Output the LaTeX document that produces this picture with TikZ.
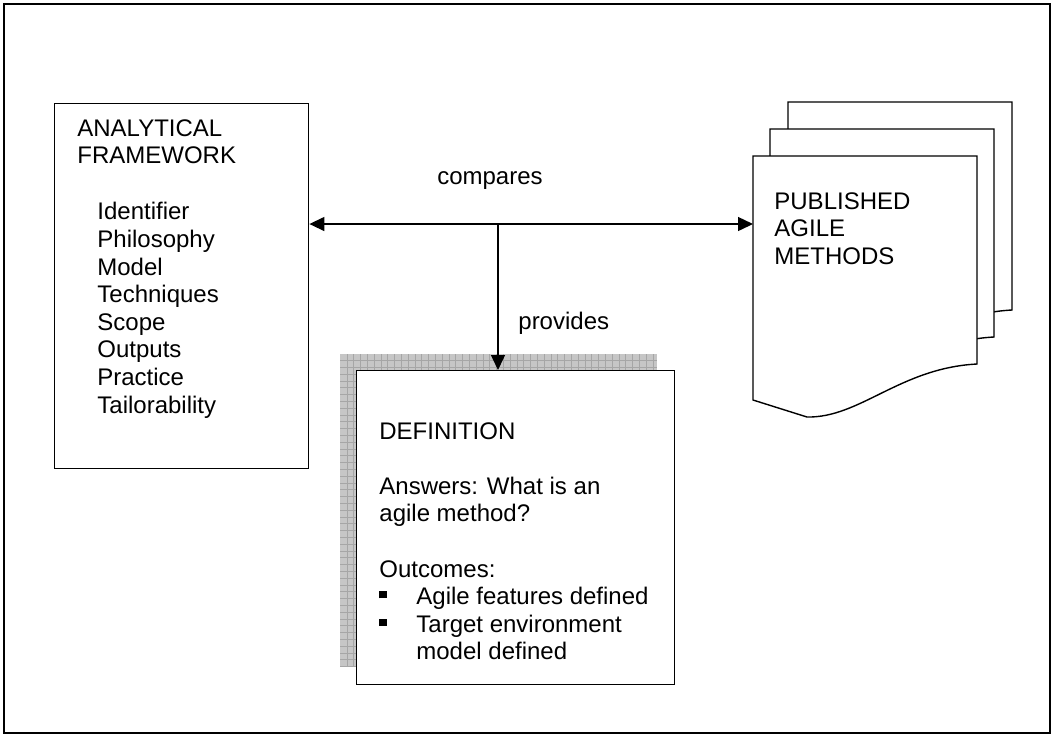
\documentclass[tikz,border=0pt]{standalone}
\usepackage{fontspec}
\setmainfont{Liberation Sans}
\usetikzlibrary{arrows.meta,positioning}

\newcommand{\sqbul}{\makebox[18.5pt][l]{\rule[3.2pt]{3.6pt}{3.6pt}}}

\begin{document}
\begin{tikzpicture}[
    x=0.5pt, y=-0.5pt,
    box/.style={draw, line width=0.7pt, fill=white, rectangle, inner sep=0pt, anchor=north west},
    txt/.style={inner sep=0pt, align=left, anchor=north west, font=\fontsize{12}{13.8}\selectfont},
    lbl/.style={inner sep=0pt, font=\fontsize{12}{13.8}\selectfont},
    arrow/.style={->, line width=0.7pt, >={Triangle[length=7.5pt,width=7pt]}}
]
\useasboundingbox (0,0) rectangle (1054,736);

% Outer frame
\draw[line width=1pt] (4,4) rectangle (1050,733);

% Analytical framework
\node[box, minimum width=127pt, minimum height=182.5pt] (fwork) at (54,103) {};
\node[txt] (fwtitle) at (77,119) {ANALYTICAL\\FRAMEWORK};
\node[txt] (fwlist) at (97,202) {Identifier\\Philosophy\\Model\\Techniques\\Scope\\Outputs\\Practice\\Tailorability};

% Definition with shadow
\fill[gray!45] (340,354) rectangle (657,667);
\begin{scope}
    \clip (340,354) rectangle (657,667);
    \draw[gray!70, line width=0.3pt, step=3.4pt] (340,354) grid (657,667);
\end{scope}
\node[box, minimum width=159pt, minimum height=157pt] (defn) at (356,370) {};
\node[txt] (deftext) at (379,422) {DEFINITION\\[13.8pt]
    Answers: What is an\\agile method?\\[13.8pt]
    Outcomes:\\
    \sqbul Agile features defined\\
    \sqbul Target environment\\
    \hspace{18.5pt}model defined};

% Published methods (stack of documents)
\foreach \dx/\dy in {35/-54, 17/-27, 0/0}
    \draw[line width=0.7pt, fill=white, shift={(\dx,\dy)}]
        (753,156) -- (977,156) -- (977,364)
        .. controls (900,368) and (860,418) .. (807,417) -- (753,400) -- cycle;
\node[inner sep=0pt, minimum width=112pt, minimum height=122pt, anchor=north west] (pubdoc) at (753,156) {};
\node[txt] (pubtext) at (774,192) {PUBLISHED\\AGILE\\METHODS};

% Arrows
\coordinate (split) at (498,224);
\draw[arrow, <->] (fwork.east |- split) -- (pubdoc.west |- split);
\draw[arrow] (split) -- (split |- defn.north);

% Labels
\node[lbl, anchor=base] (cmp) at (490,184) {compares};
\node[lbl, anchor=base west] (prov) at (518,329) {provides};

\end{tikzpicture}
\end{document}
